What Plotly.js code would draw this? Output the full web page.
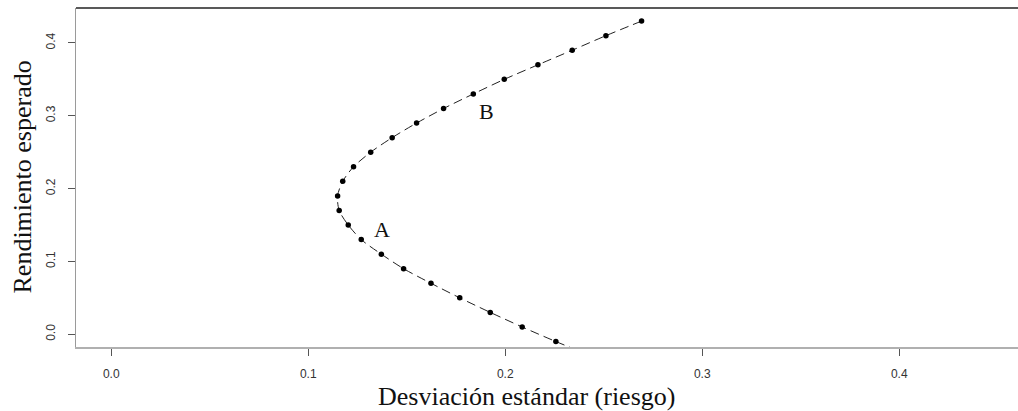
<!DOCTYPE html>
<html>
<head>
<meta charset="utf-8">
<script src="https://cdn.plot.ly/plotly-3.0.1.min.js"></script>
<style>
  html, body { margin: 0; padding: 0; background: #ffffff; }
  #chart { width: 1018px; height: 411px; }
</style>
</head>
<body>
<div id="chart"></div>
<script>
// Efficient frontier: expected return vs. standard deviation (risk)
const expectedReturn = [0.43, 0.41, 0.39, 0.37, 0.35, 0.33, 0.31, 0.29, 0.27, 0.25, 0.23, 0.21,
                        0.19, 0.17, 0.15, 0.13, 0.11, 0.09, 0.07, 0.05, 0.03, 0.01, -0.01];
const riskStdDev = [0.2692, 0.2511, 0.2340, 0.2166, 0.1995, 0.1838, 0.1687, 0.1550, 0.1426, 0.1317,
                    0.1230, 0.1175, 0.1149, 0.1157, 0.1203, 0.1269, 0.1371, 0.1484, 0.1623, 0.1769,
                    0.1924, 0.2086, 0.2257];

// The dashed frontier curve runs on past the last portfolio, down through the bottom of the plot
const curveTailRisk = [0.244];
const curveTailReturn = [-0.03];

const tickValues = [0, 0.1, 0.2, 0.3, 0.4];
const tickLabels = ['0.0', '0.1', '0.2', '0.3', '0.4'];

// Point labels
const pointLabels = ['A', 'B'];
const pointLabelRisk = [0.1374, 0.1907];
const pointLabelReturn = [0.1444, 0.3054];

const xTitle = 'Desviación estándar (riesgo)';
const yTitle = 'Rendimiento esperado';

const serif = 'Liberation Serif, Times New Roman, serif';
const sans = 'Liberation Sans, Arial, sans-serif';

const traces = [
  {
    type: 'scatter',
    mode: 'lines',
    x: riskStdDev.concat(curveTailRisk),
    y: expectedReturn.concat(curveTailReturn),
    line: { color: '#222222', width: 1, dash: '9px,5px', shape: 'spline', smoothing: 0.8 },
    hoverinfo: 'skip',
    showlegend: false
  },
  {
    type: 'scatter',
    mode: 'markers',
    x: riskStdDev,
    y: expectedReturn,
    marker: { color: '#000000', size: 5.5 },
    showlegend: false
  }
];

const axisCommon = {
  showgrid: false,
  zeroline: false,
  showline: true,
  linewidth: 1.5,
  ticks: 'outside',
  ticklen: 7,
  tickwidth: 1,
  tickcolor: '#555555',
  tickvals: tickValues,
  ticktext: tickLabels,
  tickfont: { family: sans, size: 12, color: '#333333' },
  automargin: false,
  fixedrange: true
};

const annotations = pointLabels.map((t, i) => ({
  text: t,
  x: pointLabelRisk[i],
  y: pointLabelReturn[i],
  xref: 'x',
  yref: 'y',
  showarrow: false,
  font: { family: serif, size: 22, color: '#111111' }
}));

annotations.push({
  text: xTitle,
  xref: 'paper', yref: 'paper',
  x: 0.478, y: 0,
  xanchor: 'center', yanchor: 'middle',
  yshift: -49,
  showarrow: false,
  font: { family: serif, size: 26, color: '#111111' }
});
annotations.push({
  text: yTitle,
  xref: 'paper', yref: 'paper',
  x: 0, y: 0.5,
  xanchor: 'center', yanchor: 'middle',
  xshift: -54,
  textangle: -90,
  showarrow: false,
  font: { family: serif, size: 26, color: '#111111' }
});

const layout = {
  width: 1018,
  height: 411,
  margin: { l: 76, r: 0, t: 8, b: 64 },
  paper_bgcolor: '#ffffff',
  plot_bgcolor: '#ffffff',
  showlegend: false,
  xaxis: Object.assign({}, axisCommon, {
    range: [-0.0179, 0.4603],
    linecolor: '#b0b0b0',
    ticklabelstandoff: 8
  }),
  yaxis: Object.assign({}, axisCommon, {
    range: [-0.0175, 0.448],
    linecolor: '#9a9a9a',
    tickangle: -90,
    ticklabelstandoff: 8
  }),
  shapes: [
    {
      type: 'line', xref: 'paper', yref: 'paper',
      x0: 0, x1: 1, y0: 1, y1: 1,
      line: { color: '#222222', width: 1.5 }
    }
  ],
  annotations: annotations
};

Plotly.newPlot('chart', traces, layout, { displayModeBar: false, staticPlot: true });
</script>
</body>
</html>
